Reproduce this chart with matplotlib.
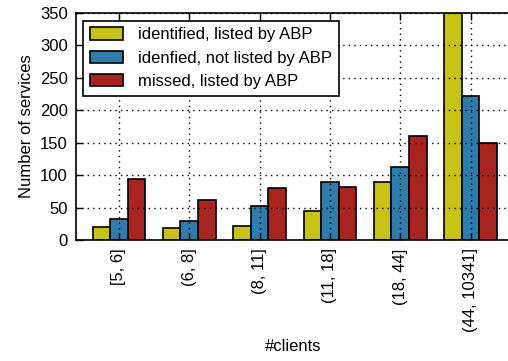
import matplotlib
matplotlib.use("Agg")
import matplotlib.pyplot as plt
import numpy as np

plt.rcParams['font.family'] = ['Liberation Sans', 'DejaVu Sans']

bins = ['[5, 6]', '(6, 8]', '(8, 11]', '(11, 18]', '(18, 44]', '(44, 10341]']
identified_listed = [20, 18, 21, 45, 89, 350]
identified_not_listed = [32, 29, 52, 89, 113, 222]
missed_listed = [94, 61, 80, 82, 160, 150]

series = [
    (identified_listed, 'identified, listed by ABP', '#c9c216'),
    (identified_not_listed, 'idenfied, not listed by ABP', '#2e7cab'),
    (missed_listed, 'missed, listed by ABP', '#a8251f'),
]

fig = plt.figure(figsize=(5.08, 3.61), dpi=100)
ax = fig.add_axes([76 / 508, 121 / 361, 434 / 508, 227.3 / 361])

x = np.arange(len(bins))
w = 0.25
for i, (vals, lab, col) in enumerate(series):
    ax.bar(x + (i - 1) * w, vals, w, color=col, edgecolor='black',
           linewidth=1.2, label=lab, zorder=2)

ax.set_xlim(-0.61, 5.56)
ax.set_ylim(0, 350)
ax.set_yticks(np.arange(0, 351, 50))
ax.set_xticks(x)
ax.set_xticklabels(bins, rotation=90)
ax.tick_params(axis='both', direction='in', length=5, width=1, labelsize=12,
               top=True, right=False, pad=6)
# dotted grid drawn over the bars
ax.grid(True, linestyle=(0, (1, 3)), color='black', linewidth=1, zorder=3)
ax.set_axisbelow(False)
for s in ax.spines.values():
    s.set_linewidth(1.2)

ax.set_ylabel('Number of services', fontsize=12)
ax.set_xlabel('#clients', fontsize=12, labelpad=5)

leg = ax.legend(loc='upper left', bbox_to_anchor=(0.016, 0.965), fontsize=12,
                fancybox=False, framealpha=1, edgecolor='black',
                handlelength=2.0, handleheight=0.75, borderaxespad=0,
                labelspacing=0.5, handletextpad=0.9)
leg.get_frame().set_linewidth(1.2)
leg.set_zorder(5)

fig.savefig('out.png', dpi=100)
